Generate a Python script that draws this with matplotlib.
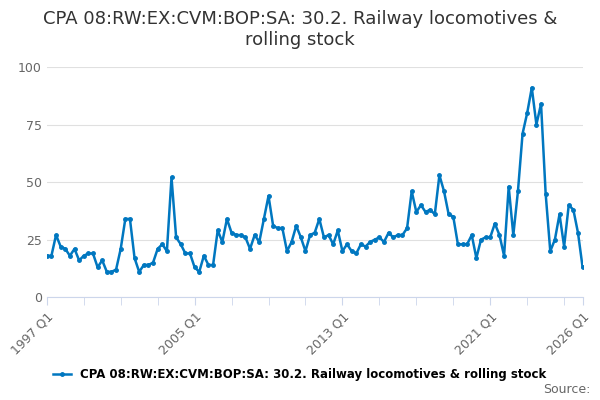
import matplotlib
matplotlib.use("Agg")
from matplotlib import pyplot as plt

values = [18, 18, 27, 22, 21, 18, 21, 16, 18, 19,
          19, 13, 16, 11, 11, 12, 21, 34, 34, 17,
          11, 14, 14, 15, 21, 23, 20, 52, 26, 23,
          19, 19, 13, 11, 18, 14, 14, 29, 24, 34,
          28, 27, 27, 26, 21, 27, 24, 34, 44, 31,
          30, 30, 20, 24, 31, 26, 20, 27, 28, 34,
          26, 27, 23, 29, 20, 23, 20, 19, 23, 22,
          24, 25, 26, 24, 28, 26, 27, 27, 30, 46,
          37, 40, 37, 38, 36, 53, 46, 36, 35, 23,
          23, 23, 27, 17, 25, 26, 26, 32, 27, 18,
          48, 27, 46, 71, 80, 91, 75, 84, 45, 20,
          25, 36, 22, 40, 38, 28, 13]
tick_labels = ['1997 Q1', '2005 Q1', '2013 Q1', '2021 Q1', '2026 Q1']
tick_pos = [0, 32, 64, 96, 116]
label = 'CPA 08:RW:EX:CVM:BOP:SA: 30.2. Railway locomotives & rolling stock'

colour = '#0077c0'
x = list(range(len(values)))

fig = plt.figure(figsize=(6, 4), dpi=100)
ax = fig.add_axes([0.078, 0.257, 0.893, 0.5755])
ax.plot(x, values, color=colour, lw=1.8, marker='o', ms=2.5, label=label)
ax.set_ylim(0, 100)
ax.set_xlim(0, 116)
ax.set_yticks([0, 25, 50, 75, 100])
ax.grid(axis='y', color='#e0e0e0', lw=0.8)
ax.set_axisbelow(True)
ax.set_xticks(list(range(0, 117, 8)) + [116], minor=True)
ax.set_xticks(tick_pos)
ax.set_xticklabels(tick_labels, rotation=45, ha='right', rotation_mode='anchor')
ax.tick_params(axis='x', which='both', length=6, color='#ccd6eb', labelcolor='#666666', labelsize=9)
ax.tick_params(axis='y', length=0, labelcolor='#666666', labelsize=9)
for s in ['top', 'right', 'left']:
    ax.spines[s].set_visible(False)
ax.spines['bottom'].set_color('#ccd6eb')

fig.suptitle('CPA 08:RW:EX:CVM:BOP:SA: 30.2. Railway locomotives &\nrolling stock',
             fontsize=13, color='#333333', y=0.975)
fig.legend(loc='lower center', bbox_to_anchor=(0.5, 0.02), frameon=False,
           handlelength=1.5, prop={'weight': 'bold', 'size': 8.5})
fig.text(0.985, 0.01, 'Source:', ha='right', va='bottom', fontsize=9, color='#666666')

fig.savefig('out.png')
